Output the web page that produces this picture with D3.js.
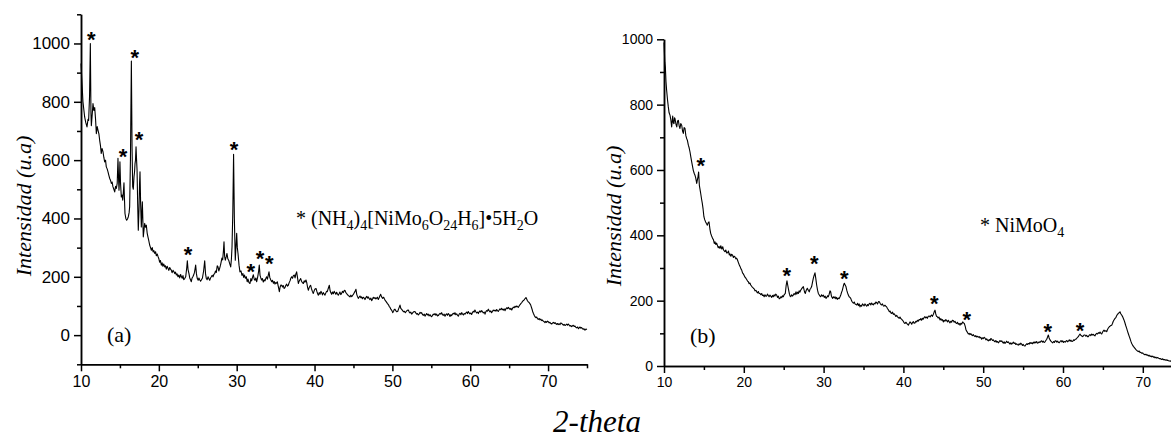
<!DOCTYPE html>
<html>
<head>
<meta charset="utf-8">
<script src="https://cdn.jsdelivr.net/npm/d3@7"></script>
<style>
  body { margin: 0; background: #fff; }
  svg { display: block; }
</style>
</head>
<body>
<svg id="chart" width="1171" height="438"></svg>
<script>
// (a) ammonium nickel molybdate pattern, [2-theta, intensity]
const scanA = [
  [10.0,931],[10.1,880],[10.25,800],[10.47,748],[10.6,730],[10.77,714],[10.9,740],[10.98,736],[11.1,820],[11.2,1000],
  [11.28,760],[11.33,718],[11.45,760],[11.54,794],[11.65,770],[11.76,780],[11.87,740],[11.97,691],[12.08,715],[12.18,703],
  [12.3,690],[12.4,668],[12.5,650],[12.6,623],[12.7,640],[12.83,628],[12.93,610],[13.04,594],[13.15,600],[13.25,577],
  [13.36,570],[13.47,560],[13.58,548],[13.69,537],[13.8,530],[13.9,520],[14.0,525],[14.1,509],[14.22,500],[14.33,491],
  [14.44,510],[14.54,503],[14.65,520],[14.75,606],[14.82,540],[14.88,497],[14.94,530],[15.0,594],[15.08,520],[15.18,474],
  [15.27,480],[15.36,463],[15.44,490],[15.52,522],[15.58,470],[15.65,417],[15.76,400],[15.87,394],[15.97,398],[16.08,406],
  [16.18,420],[16.25,440],[16.35,600],[16.47,940],[16.56,640],[16.64,509],[16.72,500],[16.81,543],[16.88,560],[16.94,588],
  [17.0,600],[17.07,646],[17.14,600],[17.2,566],[17.28,450],[17.36,360],[17.45,430],[17.52,520],[17.58,560],[17.66,450],
  [17.75,371],[17.82,420],[17.88,457],[17.94,400],[18.0,337],[18.09,360],[18.18,383],[18.28,370],[18.39,377],[18.5,350],
  [18.6,337],[18.7,325],[18.82,309],[18.93,300],[19.04,291],[19.15,300],[19.26,285],[19.36,290],[19.47,280],[19.58,286],
  [19.68,272],[19.8,278],[19.9,269],[20.0,262],[20.1,250],[20.2,256],[20.32,240],[20.42,248],[20.52,236],[20.63,244],
  [20.75,234],[20.85,238],[20.96,226],[21.07,236],[21.18,229],[21.28,222],[21.4,232],[21.5,226],[21.6,223],[21.7,214],
  [21.82,222],[21.93,218],[22.04,211],[22.14,216],[22.25,206],[22.35,210],[22.46,200],[22.57,206],[22.68,196],[22.8,208],
  [22.9,200],[23.0,195],[23.1,204],[23.2,190],[23.32,194],[23.45,200],[23.58,230],[23.66,255],[23.75,225],[23.87,211],
  [23.97,196],[24.07,190],[24.17,183],[24.27,196],[24.37,200],[24.47,206],[24.58,215],[24.73,240],[24.83,210],[24.94,194],
  [25.05,188],[25.15,196],[25.25,190],[25.36,185],[25.46,189],[25.6,196],[25.75,220],[25.89,255],[26.0,210],[26.1,194],
  [26.2,190],[26.32,200],[26.42,194],[26.53,188],[26.64,196],[26.74,200],[26.85,205],[26.96,200],[27.06,208],[27.17,211],
  [27.28,220],[27.38,215],[27.5,238],[27.6,234],[27.7,220],[27.81,229],[27.92,240],[28.0,250],[28.1,264],[28.2,258],
  [28.3,290],[28.37,320],[28.45,270],[28.54,257],[28.65,268],[28.75,280],[28.86,262],[28.97,257],[29.1,245],[29.23,234],
  [29.32,260],[29.4,303],[29.5,420],[29.6,620],[29.7,400],[29.82,257],[29.9,300],[30.0,349],[30.08,300],[30.17,280],
  [30.3,240],[30.42,217],[30.55,220],[30.68,205],[30.8,211],[30.9,198],[31.0,206],[31.12,195],[31.24,200],[31.35,183],
  [31.45,192],[31.58,180],[31.71,177],[31.82,194],[31.92,186],[32.03,198],[32.14,207],[32.25,192],[32.35,188],[32.46,196],
  [32.57,183],[32.7,200],[32.82,220],[32.9,240],[33.0,205],[33.1,196],[33.2,189],[33.3,194],[33.42,182],[33.54,190],
  [33.64,186],[33.75,195],[33.85,200],[33.95,192],[34.05,205],[34.15,217],[34.25,198],[34.37,190],[34.5,183],[34.6,188],
  [34.72,178],[34.82,184],[34.92,175],[35.03,180],[35.12,178],[35.22,183],[35.32,170],[35.4,160],[35.48,149],[35.58,165],
  [35.68,172],[35.78,171],[35.88,165],[35.98,170],[36.1,160],[36.2,163],[36.3,170],[36.42,175],[36.52,168],[36.63,171],
  [36.74,180],[36.85,186],[36.95,195],[37.06,200],[37.17,195],[37.28,204],[37.4,206],[37.5,196],[37.6,210],[37.7,217],
  [37.8,200],[37.92,177],[38.02,185],[38.12,190],[38.22,194],[38.34,184],[38.45,180],[38.56,177],[38.67,186],[38.78,182],
  [38.9,189],[39.0,180],[39.1,165],[39.2,154],[39.3,162],[39.4,168],[39.5,171],[39.6,160],[39.72,150],[39.84,143],
  [39.95,152],[40.06,158],[40.19,160],[40.3,150],[40.4,142],[40.49,137],[40.6,146],[40.7,140],[40.82,150],[40.92,145],
  [41.02,138],[41.12,146],[41.24,141],[41.34,137],[41.44,144],[41.54,150],[41.64,149],[41.76,160],[41.9,171],[42.0,152],
  [42.1,145],[42.2,140],[42.3,148],[42.42,142],[42.52,150],[42.63,145],[42.74,140],[42.84,147],[42.95,141],[43.05,137],
  [43.15,142],[43.26,148],[43.37,139],[43.48,143],[43.58,150],[43.7,146],[43.8,152],[43.9,154],[44.0,147],[44.1,143],
  [44.2,140],[44.32,136],[44.44,134],[44.55,131],[44.66,137],[44.78,132],[44.9,137],[45.0,140],[45.1,145],[45.2,150],
  [45.32,157],[45.42,140],[45.52,132],[45.62,126],[45.72,130],[45.84,134],[45.95,128],[46.05,131],[46.15,125],[46.26,130],
  [46.38,127],[46.48,122],[46.58,128],[46.7,133],[46.8,127],[46.9,131],[47.0,126],[47.12,122],[47.24,127],[47.34,118],
  [47.45,124],[47.55,130],[47.66,126],[47.76,129],[47.88,124],[47.98,127],[48.08,130],[48.19,122],[48.3,128],[48.4,135],
  [48.5,140],[48.6,132],[48.75,126],[48.88,130],[49.05,120],[49.2,115],[49.35,109],[49.5,104],[49.6,98],[49.7,95],
  [49.82,88],[49.94,84],[50.04,77],[50.15,82],[50.24,88],[50.33,89],[50.44,84],[50.56,80],[50.68,81],[50.8,90],
  [50.9,97],[50.98,103],[51.08,92],[51.2,88],[51.32,84],[51.44,80],[51.55,82],[51.66,77],[51.78,81],[51.9,85],
  [52.05,86],[52.15,80],[52.26,76],[52.36,79],[52.48,72],[52.6,76],[52.72,80],[52.9,81],[53.0,76],[53.12,72],
  [53.22,74],[53.33,69],[53.45,73],[53.56,78],[53.66,75],[53.76,77],[53.88,70],[54.0,68],[54.1,72],[54.19,65],
  [54.3,70],[54.4,74],[54.5,69],[54.6,72],[54.72,66],[54.85,70],[54.95,65],[55.05,63],[55.15,68],[55.26,72],
  [55.36,70],[55.47,74],[55.58,68],[55.68,72],[55.8,66],[55.9,67],[56.0,71],[56.12,75],[56.22,72],[56.33,77],
  [56.44,70],[56.55,68],[56.65,72],[56.76,65],[56.86,70],[56.96,73],[57.07,68],[57.18,74],[57.3,70],[57.4,64],
  [57.5,70],[57.6,67],[57.72,72],[57.82,75],[57.94,72],[58.04,77],[58.15,70],[58.26,73],[58.36,68],[58.47,65],
  [58.58,72],[58.68,75],[58.8,70],[58.9,77],[59.0,73],[59.12,69],[59.22,74],[59.33,72],[59.44,76],[59.54,79],
  [59.65,74],[59.75,81],[59.86,76],[59.96,73],[60.08,76],[60.18,71],[60.3,78],[60.4,82],[60.5,79],[60.6,86],
  [60.72,80],[60.82,76],[60.94,79],[61.04,74],[61.15,80],[61.25,83],[61.36,79],[61.47,84],[61.58,80],[61.68,76],
  [61.8,79],[61.9,72],[62.0,80],[62.1,84],[62.2,82],[62.32,89],[62.42,84],[62.54,80],[62.64,83],[62.75,77],
  [62.86,82],[62.96,86],[63.07,83],[63.18,86],[63.3,82],[63.4,88],[63.5,84],[63.6,81],[63.72,86],[63.82,90],
  [63.94,87],[64.04,92],[64.14,88],[64.25,86],[64.36,90],[64.46,84],[64.58,90],[64.68,94],[64.8,91],[64.9,95],
  [65.0,92],[65.12,88],[65.22,92],[65.33,86],[65.44,92],[65.54,96],[65.65,94],[65.75,99],[65.86,96],[65.96,100],
  [66.06,98],[66.17,95],[66.28,100],[66.38,104],[66.5,108],[66.6,111],[66.7,115],[66.8,118],[66.9,120],[67.0,124],
  [67.08,126],[67.16,129],[67.25,124],[67.35,118],[67.46,114],[67.56,112],[67.66,108],[67.77,103],[67.88,94],[67.95,88],
  [68.02,81],[68.12,74],[68.22,68],[68.32,63],[68.44,60],[68.54,62],[68.64,56],[68.75,54],[68.86,57],[68.96,52],
  [69.06,55],[69.17,50],[69.28,52],[69.38,48],[69.5,46],[69.6,43],[69.7,47],[69.82,44],[69.92,48],[70.02,46],
  [70.14,42],[70.24,44],[70.35,40],[70.46,38],[70.56,41],[70.68,44],[70.8,40],[70.9,43],[71.0,39],[71.1,37],
  [71.2,40],[71.3,36],[71.42,39],[71.54,36],[71.64,42],[71.75,40],[71.86,37],[71.96,34],[72.06,37],[72.17,33],
  [72.28,35],[72.4,38],[72.5,34],[72.6,38],[72.72,34],[72.82,31],[72.92,33],[73.03,29],[73.14,32],[73.24,34],
  [73.35,30],[73.46,31],[73.56,27],[73.68,25],[73.8,28],[73.9,22],[74.0,25],[74.1,28],[74.2,24],[74.3,26],
  [74.42,22],[74.52,20],[74.62,22],[74.74,17],[74.86,21],[75.0,19]
];

// (b) NiMoO4 pattern, [2-theta, intensity]
const scanB = [
  [10.0,990],[10.05,960],[10.1,930],[10.17,915],[10.25,870],[10.33,844],[10.44,815],[10.54,793],[10.64,775],[10.75,768],
  [10.85,755],[10.96,732],[11.03,750],[11.09,765],[11.17,745],[11.25,742],[11.32,760],[11.38,757],[11.5,740],[11.6,732],
  [11.7,750],[11.8,752],[11.9,735],[12.0,727],[12.1,742],[12.22,737],[12.32,720],[12.42,712],[12.52,730],[12.63,727],
  [12.74,705],[12.84,696],[12.94,690],[13.05,676],[13.15,668],[13.26,655],[13.36,640],[13.47,625],[13.57,612],[13.67,599],
  [13.78,590],[13.88,584],[13.98,575],[14.1,559],[14.18,570],[14.26,579],[14.34,594],[14.43,553],[14.52,540],[14.6,528],
  [14.7,512],[14.8,498],[14.9,480],[15.0,457],[15.1,448],[15.22,441],[15.32,436],[15.43,431],[15.53,438],[15.64,441],
  [15.75,420],[15.85,406],[15.97,398],[16.1,390],[16.2,386],[16.3,375],[16.39,380],[16.5,372],[16.6,376],[16.68,370],
  [16.8,362],[16.9,366],[17.02,360],[17.12,368],[17.24,358],[17.36,365],[17.46,355],[17.56,352],[17.64,350],[17.74,355],
  [17.86,346],[17.98,347],[18.08,352],[18.18,340],[18.27,343],[18.38,336],[18.48,342],[18.6,339],[18.7,332],[18.8,336],
  [18.9,334],[19.0,328],[19.1,330],[19.19,326],[19.3,318],[19.44,309],[19.54,304],[19.63,298],[19.73,294],[19.84,285],
  [19.94,282],[20.03,278],[20.15,272],[20.28,268],[20.38,264],[20.47,260],[20.57,258],[20.67,252],[20.77,254],[20.87,248],
  [20.98,244],[21.1,241],[21.2,238],[21.3,236],[21.4,230],[21.52,232],[21.62,227],[21.72,224],[21.82,228],[21.92,222],
  [22.03,222],[22.13,218],[22.24,222],[22.34,216],[22.44,217],[22.55,212],[22.65,218],[22.76,214],[22.86,214],[22.96,220],
  [23.07,216],[23.17,212],[23.28,217],[23.38,214],[23.5,210],[23.6,216],[23.7,212],[23.8,218],[23.9,214],[24.0,220],
  [24.12,217],[24.22,210],[24.33,214],[24.44,206],[24.54,207],[24.64,212],[24.75,209],[24.85,215],[24.95,212],[25.05,218],
  [25.2,222],[25.3,245],[25.41,261],[25.5,248],[25.62,232],[25.72,220],[25.8,214],[25.88,212],[26.0,218],[26.1,214],
  [26.2,217],[26.3,222],[26.42,218],[26.54,227],[26.64,220],[26.74,226],[26.83,222],[26.93,230],[27.03,226],[27.13,232],
  [27.24,236],[27.35,240],[27.46,243],[27.56,232],[27.64,225],[27.71,222],[27.8,230],[27.88,234],[27.96,238],[28.08,232],
  [28.2,227],[28.3,235],[28.4,238],[28.5,243],[28.6,255],[28.71,268],[28.82,278],[28.92,285],[29.02,268],[29.13,248],
  [29.24,232],[29.34,222],[29.44,218],[29.54,214],[29.64,212],[29.74,218],[29.86,214],[29.97,217],[30.08,210],[30.2,214],
  [30.3,207],[30.4,210],[30.5,215],[30.59,212],[30.7,220],[30.8,230],[30.89,227],[30.98,214],[31.06,210],[31.14,207],
  [31.24,212],[31.34,208],[31.43,212],[31.53,206],[31.62,210],[31.72,204],[31.82,208],[31.94,206],[32.06,212],[32.16,218],
  [32.26,226],[32.35,232],[32.45,242],[32.53,250],[32.6,253],[32.7,248],[32.8,243],[32.9,232],[33.0,224],[33.1,217],
  [33.2,212],[33.3,210],[33.4,207],[33.5,200],[33.6,196],[33.73,192],[33.84,196],[33.94,190],[34.05,188],[34.15,187],
  [34.26,192],[34.36,185],[34.46,190],[34.56,181],[34.66,186],[34.76,183],[34.87,190],[34.98,187],[35.08,184],[35.18,190],
  [35.3,186],[35.4,183],[35.5,188],[35.6,185],[35.7,190],[35.81,192],[35.92,187],[36.02,193],[36.12,189],[36.23,187],
  [36.34,192],[36.44,190],[36.55,196],[36.65,194],[36.76,190],[36.88,197],[36.98,197],[37.08,192],[37.18,188],[37.27,187],
  [37.37,190],[37.47,185],[37.57,183],[37.68,186],[37.8,183],[37.9,181],[38.0,176],[38.12,172],[38.24,166],[38.34,168],
  [38.44,162],[38.53,161],[38.64,165],[38.74,158],[38.85,160],[38.95,156],[39.05,152],[39.16,155],[39.26,150],[39.36,149],
  [39.47,146],[39.57,150],[39.68,145],[39.79,143],[39.9,140],[40.0,136],[40.1,132],[40.2,130],[40.3,134],[40.4,131],
  [40.5,128],[40.62,125],[40.72,130],[40.83,135],[40.94,132],[41.04,128],[41.14,133],[41.24,136],[41.34,131],[41.45,132],
  [41.56,137],[41.66,135],[41.76,140],[41.86,137],[41.97,142],[42.08,141],[42.18,145],[42.28,140],[42.38,146],[42.48,143],
  [42.58,148],[42.7,151],[42.8,147],[42.9,150],[43.0,146],[43.12,152],[43.25,153],[43.35,150],[43.44,154],[43.54,156],
  [43.64,152],[43.75,158],[43.85,165],[43.96,171],[44.05,160],[44.15,152],[44.25,151],[44.35,147],[44.45,150],[44.6,141],
  [44.7,145],[44.8,140],[44.9,142],[45.0,135],[45.1,140],[45.2,137],[45.32,142],[45.43,139],[45.53,135],[45.63,140],
  [45.73,136],[45.84,132],[45.94,137],[46.04,134],[46.14,140],[46.25,139],[46.36,134],[46.46,137],[46.57,132],[46.68,130],
  [46.78,134],[46.88,128],[47.0,130],[47.1,125],[47.2,131],[47.3,128],[47.43,135],[47.53,132],[47.63,130],[47.74,122],
  [47.85,110],[47.95,106],[48.05,102],[48.14,98],[48.24,100],[48.34,96],[48.45,99],[48.56,95],[48.66,93],[48.76,96],
  [48.87,92],[48.97,90],[49.07,93],[49.17,89],[49.28,91],[49.39,88],[49.5,90],[49.6,86],[49.7,88],[49.81,82],
  [49.92,86],[50.02,84],[50.12,88],[50.23,85],[50.34,80],[50.44,83],[50.54,79],[50.64,77],[50.75,81],[50.86,78],
  [50.96,84],[51.07,82],[51.17,78],[51.27,80],[51.38,76],[51.48,74],[51.58,78],[51.7,73],[51.8,75],[51.9,71],
  [52.0,74],[52.1,78],[52.22,75],[52.32,77],[52.42,73],[52.52,70],[52.62,74],[52.73,69],[52.84,72],[52.94,76],
  [53.04,72],[53.15,74],[53.26,70],[53.36,67],[53.46,71],[53.57,67],[53.68,70],[53.78,73],[53.88,69],[53.98,71],
  [54.08,66],[54.2,68],[54.3,65],[54.4,64],[54.5,68],[54.6,65],[54.7,70],[54.82,67],[54.92,63],[55.02,66],
  [55.13,62],[55.24,61],[55.34,65],[55.44,68],[55.55,66],[55.65,69],[55.76,67],[55.86,72],[55.97,69],[56.08,71],
  [56.18,68],[56.28,73],[56.38,70],[56.49,74],[56.6,71],[56.7,75],[56.8,70],[56.9,71],[57.0,74],[57.12,72],
  [57.22,76],[57.33,77],[57.43,73],[57.54,76],[57.64,72],[57.75,74],[57.85,78],[57.96,82],[58.06,88],[58.16,95],
  [58.26,86],[58.37,80],[58.48,76],[58.6,73],[58.71,71],[58.82,75],[58.92,72],[59.02,77],[59.12,77],[59.23,73],
  [59.33,76],[59.44,72],[59.54,71],[59.64,75],[59.75,78],[59.86,74],[59.96,77],[60.06,72],[60.17,75],[60.28,73],
  [60.38,76],[60.48,78],[60.58,74],[60.69,77],[60.79,80],[60.9,76],[61.0,79],[61.11,75],[61.22,76],[61.32,80],
  [61.42,78],[61.53,82],[61.63,82],[61.73,85],[61.83,88],[61.92,90],[62.02,94],[62.13,98],[62.23,94],[62.35,92],
  [62.47,90],[62.57,93],[62.66,95],[62.76,95],[62.86,91],[62.96,94],[63.07,90],[63.17,90],[63.28,94],[63.38,96],
  [63.49,93],[63.6,98],[63.7,95],[63.8,97],[63.9,94],[64.0,92],[64.1,97],[64.22,100],[64.33,98],[64.43,102],
  [64.53,100],[64.64,104],[64.75,100],[64.85,98],[64.95,103],[65.04,107],[65.14,110],[65.25,106],[65.36,108],[65.48,105],
  [65.58,112],[65.7,117],[65.8,120],[65.9,122],[66.0,124],[66.1,125],[66.2,130],[66.3,137],[66.39,141],[66.5,145],
  [66.64,149],[66.74,155],[66.84,158],[66.93,161],[67.04,163],[67.14,166],[67.24,160],[67.35,156],[67.45,152],[67.54,147],
  [67.64,141],[67.74,134],[67.86,124],[67.98,115],[68.08,107],[68.2,98],[68.31,90],[68.4,84],[68.5,76],[68.61,69],
  [68.72,64],[68.82,60],[68.92,57],[69.02,54],[69.12,51],[69.23,48],[69.34,46],[69.44,44],[69.54,46],[69.65,41],
  [69.76,42],[69.87,39],[69.98,40],[70.08,37],[70.18,36],[70.28,34],[70.38,36],[70.5,33],[70.6,34],[70.7,31],
  [70.8,33],[70.92,29],[71.02,31],[71.13,28],[71.24,30],[71.34,27],[71.44,28],[71.54,25],[71.64,27],[71.76,24],
  [71.86,26],[71.97,24],[72.08,22],[72.18,23],[72.28,21],[72.39,20],[72.5,22],[72.6,19],[72.7,20],[72.8,18],
  [72.92,19],[73.02,17],[73.12,18],[73.22,16],[73.34,15],[73.45,16],[73.56,13],[73.7,14],[73.82,12],[73.95,13],[74.1,11]
];

// asterisk marks above the indexed reflections, [2-theta, intensity]
const peaksA = [[11.33,1034],[16.9,971],[15.4,632],[17.45,688],[29.65,657],[23.75,294],[31.8,237],[33.0,282],[34.19,263]];
const peaksB = [[14.6,632],[25.38,294],[28.84,331],[32.6,285],[43.87,209],[47.93,158],[58.08,123],[62.13,127]];

const xTicks = [10, 20, 30, 40, 50, 60, 70];
const xMinor = [15, 25, 35, 45, 55, 65, 75];
const yTicks = [0, 200, 400, 600, 800, 1000];
const yMinorA = [-100, 100, 300, 500, 700, 900, 1100];
const yMinorB = [100, 300, 500, 700, 900];

const svg = d3.select('#chart');
const SANS = 'Liberation Sans, Arial, sans-serif';
const SERIF = 'Liberation Serif, Times New Roman, serif';

function drawPanel(p) {
    const x = d3.scaleLinear().domain(p.xDomain).range(p.xRange);
    const y = d3.scaleLinear().domain(p.yDomain).range(p.yRange);
    const g = svg.append('g');
    const bottom = p.yRange[0];
    const left = p.xRange[0];

    // minor ticks
    g.append('g')
        .attr('transform', `translate(0,${bottom})`)
        .call(d3.axisBottom(x).tickValues(p.xMinor).tickSize(4).tickSizeOuter(0).tickFormat(''));
    g.append('g')
        .attr('transform', `translate(${left},0)`)
        .call(d3.axisLeft(y).tickValues(p.yMinor).tickSize(4).tickSizeOuter(0).tickFormat(''));

    // major ticks and labels
    const xa = g.append('g')
        .attr('transform', `translate(0,${bottom})`)
        .call(d3.axisBottom(x).tickValues(xTicks).tickSize(7).tickSizeOuter(0).tickPadding(4).tickFormat(d3.format('d')));
    const ya = g.append('g')
        .attr('transform', `translate(${left},0)`)
        .call(d3.axisLeft(y).tickValues(yTicks).tickSize(7).tickSizeOuter(0).tickPadding(4).tickFormat(d3.format('d')));

    g.selectAll('.domain, .tick line').attr('stroke', '#000').attr('stroke-width', 1.5);
    xa.selectAll('text').attr('font-family', SANS).attr('font-size', p.xTickFont).attr('fill', '#000');
    ya.selectAll('text').attr('font-family', SANS).attr('font-size', p.yTickFont).attr('fill', '#000');

    // pattern
    const line = d3.line().x(d => x(d[0])).y(d => y(d[1]));
    g.append('path')
        .datum(p.scan)
        .attr('d', line)
        .attr('fill', 'none')
        .attr('stroke', '#000')
        .attr('stroke-width', 1.1)
        .attr('stroke-linejoin', 'round');

    // asterisks
    g.selectAll('text.star')
        .data(p.peaks)
        .enter()
        .append('text')
        .attr('class', 'star')
        .attr('x', d => x(d[0]))
        .attr('y', d => y(d[1]) + 13)
        .attr('text-anchor', 'middle')
        .attr('font-family', SANS)
        .attr('font-weight', 'bold')
        .attr('font-size', 22)
        .attr('fill', '#000')
        .text('*');

    // y title
    g.append('text')
        .attr('transform', `translate(${p.yTitle[0]},${p.yTitle[1]}) rotate(-90)`)
        .attr('text-anchor', 'middle')
        .attr('font-family', SERIF)
        .attr('font-style', 'italic')
        .attr('font-size', 22)
        .text('Intensidad (u.a)');

    // panel letter
    g.append('text')
        .attr('x', p.letter[0]).attr('y', p.letter[1])
        .attr('font-family', SERIF)
        .attr('font-size', 22)
        .text(p.letter[2]);

    return g;
}

function legend(g, x0, y0, parts) {
    const t = g.append('text')
        .attr('x', x0).attr('y', y0)
        .attr('font-family', SERIF)
        .attr('font-size', 20)
        .attr('fill', '#000');
    let shifted = false;
    parts.forEach(([s, sub]) => {
        const ts = t.append('tspan').text(s);
        if (sub && !shifted) { ts.attr('dy', 5).attr('font-size', 14); shifted = true; }
        else if (!sub && shifted) { ts.attr('dy', -5); shifted = false; }
        else if (sub) ts.attr('font-size', 14);
    });
    return t;
}

const gA = drawPanel({
    scan: scanA, peaks: peaksA,
    xDomain: [10, 75], xRange: [81, 587],
    yDomain: [-100, 1100], yRange: [364.3, 14.3],
    xMinor: xMinor, yMinor: yMinorA, xTickFont: 16, yTickFont: 17,
    yTitle: [31, 206], letter: [107, 342, '(a)']
});

const gB = drawPanel({
    scan: scanB, peaks: peaksB,
    xDomain: [10, 75], xRange: [664, 1182.7],
    yDomain: [0, 1000], yRange: [366, 39.3],
    xMinor: xMinor, yMinor: yMinorB, xTickFont: 14, yTickFont: 14,
    yTitle: [621, 216], letter: [690, 343, '(b)']
});

legend(gA, 296, 225, [['* (NH'], ['4', true], [')'], ['4', true], ['[NiMo'], ['6', true], ['O'], ['24', true], ['H'], ['6', true], [']•5H'], ['2', true], ['O']]);
legend(gB, 980, 232, [['* NiMoO'], ['4', true]]);

// shared x title
svg.append('text')
    .attr('x', 597).attr('y', 432)
    .attr('text-anchor', 'middle')
    .attr('font-family', SERIF)
    .attr('font-style', 'italic')
    .attr('font-size', 31)
    .text('2-theta');
</script>
</body>
</html>
